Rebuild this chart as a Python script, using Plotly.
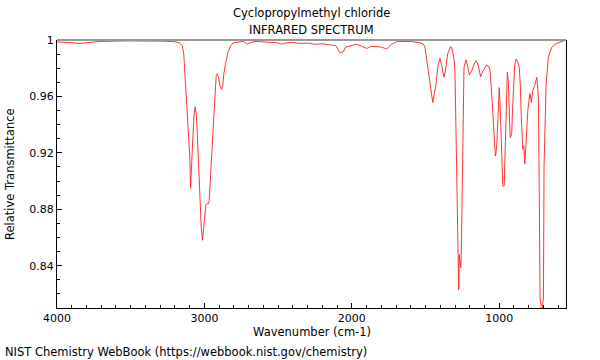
import plotly.graph_objects as go

wavenumber = [
    4000, 3950, 3900, 3857, 3800, 3750, 3700, 3650, 3600, 3550, 3500, 3450, 3400, 3350, 3300, 3250, 3200,
    3170, 3150, 3140, 3125, 3110, 3099, 3094, 3088, 3081, 3072, 3063, 3056, 3050, 3040, 3031, 3022, 3013,
    3005, 2997, 2990, 2982, 2972, 2968, 2959, 2950, 2941, 2930, 2920, 2914, 2905, 2895, 2884, 2875, 2868,
    2855, 2839, 2820, 2805, 2770, 2737, 2720, 2710, 2695, 2650, 2624, 2560, 2500, 2477, 2450, 2400, 2350,
    2300, 2250, 2200, 2150, 2110, 2081, 2060, 2040, 2000, 1967, 1930, 1900, 1870, 1832, 1800, 1764, 1730,
    1696, 1650, 1600, 1540, 1515, 1504, 1490, 1475, 1460, 1451, 1440, 1429, 1415, 1402, 1390, 1375, 1365,
    1350, 1329, 1318, 1305, 1300, 1289, 1275, 1271, 1265, 1261, 1257, 1248, 1239, 1225, 1215, 1203, 1187,
    1170, 1157, 1145, 1135, 1126, 1110, 1095, 1085, 1070, 1062, 1051, 1040, 1030, 1026, 1022, 1017, 1008,
    1000, 994, 988, 980, 976, 970, 966, 963, 955, 945, 938, 931, 926, 920, 915, 910, 904, 895, 886, 875,
    864, 857, 850, 844, 840, 836, 832, 826, 820, 813, 806, 800, 791, 782, 773, 757, 745, 738, 734, 728,
    723, 716, 712, 706, 700, 696, 682, 667, 644, 620, 599, 575, 553, 547,
]
transmittance = [
    0.9986, 0.9985, 0.9982, 0.9975, 0.9983, 0.9986, 0.9990, 0.9992, 0.9994, 0.9996, 0.9994, 0.9993, 0.9994,
    0.9993, 0.9992, 0.9990, 0.9988,
    0.998, 0.996, 0.990, 0.965, 0.935, 0.917, 0.895, 0.912, 0.925, 0.945, 0.9526, 0.948, 0.938, 0.912, 0.886,
    0.868, 0.858, 0.868, 0.879, 0.883, 0.884, 0.884, 0.886, 0.9026, 0.925, 0.945, 0.965, 0.975, 0.976, 0.974,
    0.968, 0.965, 0.968, 0.976, 0.984, 0.992, 0.996, 0.998, 0.9985, 0.999, 0.998, 0.997, 0.998, 0.999,
    0.9988, 0.9985, 0.998, 0.997, 0.998, 0.9982, 0.9976, 0.9978, 0.997, 0.9973, 0.9965, 0.996, 0.991,
    0.9915, 0.995, 0.9962, 0.997, 0.9955, 0.994, 0.9955, 0.9955, 0.995, 0.9936, 0.997, 0.9988, 0.999,
    0.999, 0.998, 0.997, 0.995, 0.985, 0.972, 0.962, 0.9557, 0.962, 0.9687, 0.982, 0.987, 0.982, 0.9735,
    0.978, 0.990, 0.9953, 0.993, 0.985, 0.976, 0.9097, 0.8229, 0.848, 0.840, 0.8386, 0.849, 0.9097, 0.9806,
    0.9858, 0.982, 0.9753, 0.978, 0.983, 0.9853, 0.983, 0.978, 0.9739, 0.978, 0.981, 0.9824, 0.981, 0.978,
    0.9616, 0.938, 0.925, 0.9177, 0.920, 0.926, 0.945, 0.9663, 0.955, 0.933, 0.905, 0.8964, 0.8964, 0.897,
    0.910, 0.945, 0.977, 0.970, 0.945, 0.9308, 0.932, 0.934, 0.950, 0.9687, 0.982, 0.9865, 0.985, 0.9806,
    0.968, 0.945, 0.930, 0.9225, 0.925, 0.9237, 0.9123, 0.925, 0.9379, 0.950, 0.9557, 0.962, 0.9557, 0.964,
    0.9687, 0.9735, 0.965, 0.9568, 0.886, 0.817, 0.812, 0.800, 0.812, 0.817, 0.910, 0.9687, 0.9877, 0.9948,
    0.997, 0.998, 0.999, 1.000, 0.9995,
]

x_tickvals = [4000, 3000, 2000, 1000]
x_ticktext = ["4000", "3000", "2000", "1000"]
y_tickvals = [0.84, 0.88, 0.92, 0.96, 1.0]
y_ticktext = ["0.84", "0.88", "0.92", "0.96", "1"]

title_line1 = "Cyclopropylmethyl chloride"
title_line2 = "INFRARED SPECTRUM"
x_title = "Wavenumber (cm-1)"
y_title = "Relative Transmittance"
footer = "NIST Chemistry WebBook (https://webbook.nist.gov/chemistry)"

FONT = "DejaVu Sans"
FS_TICK = 11
FS_TEXT = 11.5
L, R, T, B = 57, 34, 40, 52
W, H = 600, 360
PW, PH = W - L - R, H - T - B

def px2paper_x(px):
    return (px - L) / PW

def py2paper_y(py):
    return (H - B - py) / PH

fig = go.Figure()
fig.add_trace(go.Scatter(
    x=wavenumber, y=transmittance, mode="lines",
    line=dict(color="rgb(255,30,30)", width=0.9),
    hoverinfo="skip", showlegend=False,
))

fig.update_layout(
    width=W, height=H,
    margin=dict(l=L, r=R, t=T, b=B),
    paper_bgcolor="white", plot_bgcolor="white",
    font=dict(family=FONT, size=FS_TICK, color="black"),
    xaxis=dict(
        range=[4000, 547], showgrid=False, zeroline=False,
        showline=True, linecolor="black", linewidth=1,
        ticks="inside", ticklen=5, tickcolor="black",
        tickvals=x_tickvals, ticktext=x_ticktext,
        minor=dict(dtick=100, tick0=0, ticks="inside", ticklen=3, tickcolor="black"),
        tickfont=dict(family=FONT, size=FS_TICK),
    ),
    yaxis=dict(
        range=[0.81, 1.0], showgrid=False, zeroline=False,
        showline=True, linecolor="black", linewidth=1, mirror=True,
        ticks="inside", ticklen=5, tickcolor="black",
        tickvals=y_tickvals, ticktext=y_ticktext,
        minor=dict(dtick=0.01, tick0=0, ticks="inside", ticklen=3, tickcolor="black"),
        tickfont=dict(family=FONT, size=FS_TICK),
    ),
    shapes=[dict(type="line", xref="paper", yref="paper", x0=0, x1=1, y0=1, y1=1,
                 line=dict(color="#999999", width=2))],
    annotations=[
        dict(text=title_line1, xref="paper", yref="paper", x=0.5, y=py2paper_y(13),
             xanchor="center", yanchor="middle", showarrow=False, font=dict(size=FS_TEXT)),
        dict(text=title_line2, xref="paper", yref="paper", x=0.5, y=py2paper_y(30),
             xanchor="center", yanchor="middle", showarrow=False, font=dict(size=FS_TEXT)),
        dict(text=x_title, xref="paper", yref="paper", x=0.5, y=py2paper_y(332),
             xanchor="center", yanchor="middle", showarrow=False, font=dict(size=FS_TEXT)),
        dict(text=y_title, xref="paper", yref="paper", x=px2paper_x(10), y=0.5, textangle=-90,
             xanchor="center", yanchor="middle", showarrow=False, font=dict(size=FS_TEXT)),
        dict(text=footer, xref="paper", yref="paper", x=px2paper_x(3), y=py2paper_y(352),
             xanchor="left", yanchor="middle", showarrow=False, font=dict(size=FS_TEXT)),
    ],
)

fig.write_html("out.html", config={"displayModeBar": False},
               post_script="document.body.style.margin='0';")
